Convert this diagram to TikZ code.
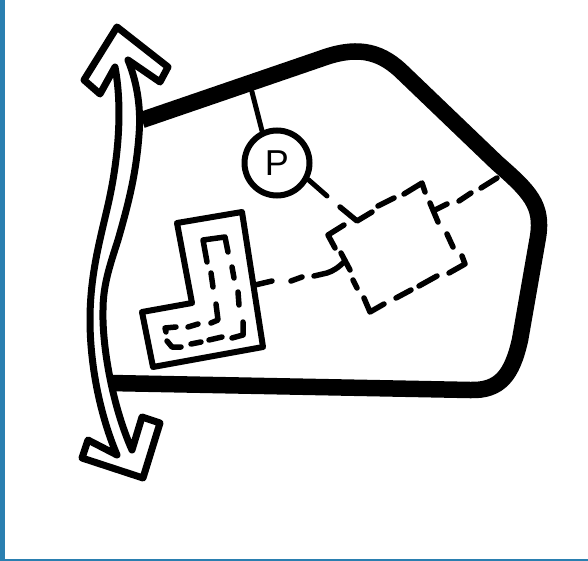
\documentclass[tikz,border=0pt]{standalone}
\usepackage{fontspec}
\setmainfont{Liberation Sans}
\tikzset{
  wall/.style={line width=16.5pt,line join=round},
  ink/.style={line width=6pt,line join=round,line cap=round},
  inkthin/.style={line width=5pt,line join=round,line cap=round},
  dashpiece/.style={line width=5.5pt,line join=round,line cap=round},
  road/.style={line width=7pt,line join=round,line cap=round},
  pump/.style={circle,draw,line width=6pt,minimum size=65pt,inner sep=0pt,font=\fontsize{36pt}{36pt}\selectfont}
}
\definecolor{edge}{HTML}{2A7FB0}
\begin{document}
\begin{tikzpicture}[x=1pt,y=-1pt]
\useasboundingbox (0,0) rectangle (588,561);
\fill[edge] (0,0) rectangle (5,561);
\fill[edge] (0,559) rectangle (588,561);
% site boundary
\draw[wall] (142,120) -- (320,59) .. controls (355,46) and (378,50) .. (400,70) -- (497,163)
  .. controls (530,192) and (543,205) .. (538,237) -- (520,340)
  .. controls (512,375) and (500,391) .. (470,390) -- (110,383);
% road with arrowheads
\draw[road] (128,60) .. controls (138,85) and (141,110) .. (139,135)
  .. controls (136,175) and (128,205) .. (118,240) .. controls (110,265) and (103,285) .. (103,310)
  .. controls (102,345) and (112,405) .. (132,450)
  -- (142,417) -- (160,423) -- (143,478) -- (82,458) -- (88,440) -- (117,455)
  .. controls (100,415) and (90,365) .. (90,320) .. controls (90,275) and (100,240) .. (108,205)
  .. controls (116,170) and (124,115) .. (115,67)
  -- (100,94) -- (84,80) -- (117,27) -- (168,67) -- (160,82) -- cycle;
% P circle
\node[pump] (p) at (277,163) {P};
\coordinate (stemtop) at (252,92);
\draw[inkthin] (stemtop) -- (p.115);
\coordinate (tailend) at (327,196);
\draw[inkthin] (p.-28) -- (tailend);
% L-shaped building
\draw[ink] (177,223) -- (242,212) -- (263,347) -- (153,367) -- (142,312) -- (192,303) -- cycle;
% inner dashes
\draw[dashpiece] (207,262) -- (203,240) -- (225,237) -- (228,252);
\draw[dashpiece] (232,267) -- (234,278);
\draw[dashpiece] (238,292) -- (239,305);
\draw[dashpiece] (243,322) -- (243,335) -- (232,338);
\draw[dashpiece] (222,337) -- (209,340);
\draw[dashpiece] (201,342) -- (191,344);
\draw[dashpiece] (181,347) -- (172,347) -- (167,341);
\draw[dashpiece] (166,332) -- (165,328) -- (176,327);
\draw[dashpiece] (188,327) -- (198,324);
\draw[dashpiece] (211,323) -- (218,320) -- (216,304);
\draw[dashpiece] (213,287) -- (211,273);
% link building to square
\draw[dashpiece] (255,285) -- (272,281);
\draw[dashpiece] (291,281) -- (302,277);
\draw[dashpiece] (314,276) -- (327,273) .. controls (333,271) and (338,268) .. (345,261);
% dashed square
\draw[dashpiece] (341,253) -- (350,270);
\draw[dashpiece] (353,280) -- (357,288);
\draw[dashpiece] (364,298) -- (370,312) -- (384,304);
\draw[dashpiece] (396,298) -- (411,290);
\draw[dashpiece] (419,286) -- (437,276);
\draw[dashpiece] (449,273) -- (465,264) -- (462,256);
\draw[dashpiece] (453,247) -- (447,234);
\draw[dashpiece] (438,222) -- (430,203);
\draw[dashpiece] (435,210) -- (447,204);
\draw[dashpiece] (459,201) -- (471,193);
\draw[dashpiece] (481,188) -- (497,178);
\draw[dashpiece] (425,192) -- (422,183) -- (404,194);
\draw[dashpiece] (394,198) -- (378,206);
\draw[dashpiece] (372,212) -- (357,221) -- (340,207);
\draw[dashpiece] (344,225) -- (328,235) -- (335,248);
\end{tikzpicture}
\end{document}
